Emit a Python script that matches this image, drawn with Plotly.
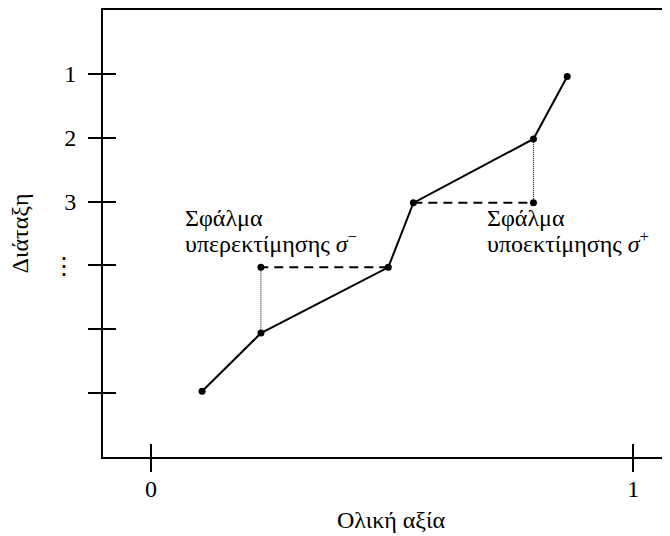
import plotly.graph_objects as go

# ---- data ----
total_value = [0.106, 0.228, 0.492, 0.544, 0.793, 0.863]   # Ολική αξία
rank_pos = [5.97, 5.06, 4.03, 3.02, 2.02, 1.04]             # Διάταξη
y_tickvals = [1, 2, 3, 4, 5, 6]
y_ticktext = ["1", "2", "3", "⋮", " ", " "]
x_tickvals = [0, 1]
x_ticktext = ["0", "1"]
under_idx = (2, 1)   # σ⁻: horizontal from point 2 back to x of point 1
over_idx = (3, 4)    # σ⁺: horizontal from point 3 forward to x of point 4

FONT = "Liberation Serif, Times New Roman, serif"
FS = 24
fig = go.Figure()

# under-estimation error
ux0, uy = total_value[under_idx[0]], rank_pos[under_idx[0]]
ux1 = total_value[under_idx[1]]
fig.add_trace(go.Scatter(x=[ux0, ux1], y=[uy, uy], mode="lines",
                         line=dict(color="black", width=2, dash="9px,6px"), showlegend=False))
fig.add_trace(go.Scatter(x=[ux1, ux1], y=[uy, rank_pos[under_idx[1]]], mode="lines",
                         line=dict(color="black", width=1, dash="1px,1px"), showlegend=False))
# over-estimation error
ox0, oy = total_value[over_idx[0]], rank_pos[over_idx[0]]
ox1 = total_value[over_idx[1]]
fig.add_trace(go.Scatter(x=[ox0, ox1], y=[oy, oy], mode="lines",
                         line=dict(color="black", width=2, dash="9px,6px"), showlegend=False))
fig.add_trace(go.Scatter(x=[ox1, ox1], y=[oy, rank_pos[over_idx[1]]], mode="lines",
                         line=dict(color="black", width=1, dash="1px,1px"), showlegend=False))
# extra markers
fig.add_trace(go.Scatter(x=[ux1, ox1], y=[uy, oy], mode="markers",
                         marker=dict(color="black", size=7), showlegend=False))
# main curve
fig.add_trace(go.Scatter(x=total_value, y=rank_pos, mode="lines+markers",
                         line=dict(color="black", width=2),
                         marker=dict(color="black", size=7), showlegend=False))
# dummy trace for overlay axes (inner half of crossing ticks)
fig.add_trace(go.Scatter(x=[None], y=[None], xaxis="x2", yaxis="y2", showlegend=False))

xr = [-0.0995, 1.0927]
yr = [7, 0]
fig.update_layout(
    width=670, height=536,
    margin=dict(l=95, r=0, t=2, b=87),
    paper_bgcolor="white", plot_bgcolor="white",
    font=dict(family=FONT, size=FS, color="black"),
    xaxis=dict(range=xr, showgrid=False, zeroline=False, showline=True, mirror=True,
               linecolor="black", linewidth=2, ticks="outside", ticklen=13, tickwidth=2,
               tickcolor="black", tickvals=x_tickvals, ticktext=x_ticktext,
               ticklabelstandoff=-4, tickfont=dict(family=FONT, size=FS)),
    yaxis=dict(range=yr, showgrid=False, zeroline=False, showline=True, mirror=False,
               linecolor="black", linewidth=2, ticks="outside", ticklen=13, tickwidth=2,
               tickcolor="black", tickvals=y_tickvals, ticktext=y_ticktext,
               ticklabelstandoff=7, tickfont=dict(family=FONT, size=FS)),
    xaxis2=dict(range=xr, overlaying="x", anchor="y2", showgrid=False, zeroline=False,
                showline=False, ticks="inside", ticklen=13, tickwidth=2, tickcolor="black",
                tickvals=x_tickvals, showticklabels=False),
    yaxis2=dict(range=yr, overlaying="y", anchor="x2", side="left", showgrid=False,
                zeroline=False, showline=False, ticks="inside", ticklen=13, tickwidth=2,
                tickcolor="black", tickvals=y_tickvals, showticklabels=False),
)

fig.add_annotation(x=0.501, y=-0.142, xref="paper", yref="paper",
                   text="Ολική αξία", showarrow=False, xanchor="center", yanchor="middle",
                   font=dict(family=FONT, size=FS))
fig.add_annotation(x=-0.1444, y=0.5, xref="paper", yref="paper", textangle=-90,
                   text="Διάταξη", showarrow=False, xanchor="center", yanchor="middle",
                   font=dict(family=FONT, size=FS))

labels = [
    (0.0663, ["Σφάλμα", "υπερεκτίμησης <i>σ</i><sup>−</sup>"]),
    (0.6925, ["Σφάλμα", "υποεκτίμησης <i>σ</i><sup>+</sup>"]),
]
line_y = [3.26, 3.63]
for lx, lines in labels:
    for txt, ly in zip(lines, line_y):
        fig.add_annotation(x=lx, y=ly, xref="x", yref="y", align="left", text=txt,
                           showarrow=False, xanchor="left", yanchor="middle",
                           font=dict(family=FONT, size=FS))

fig.write_html("out.html")
